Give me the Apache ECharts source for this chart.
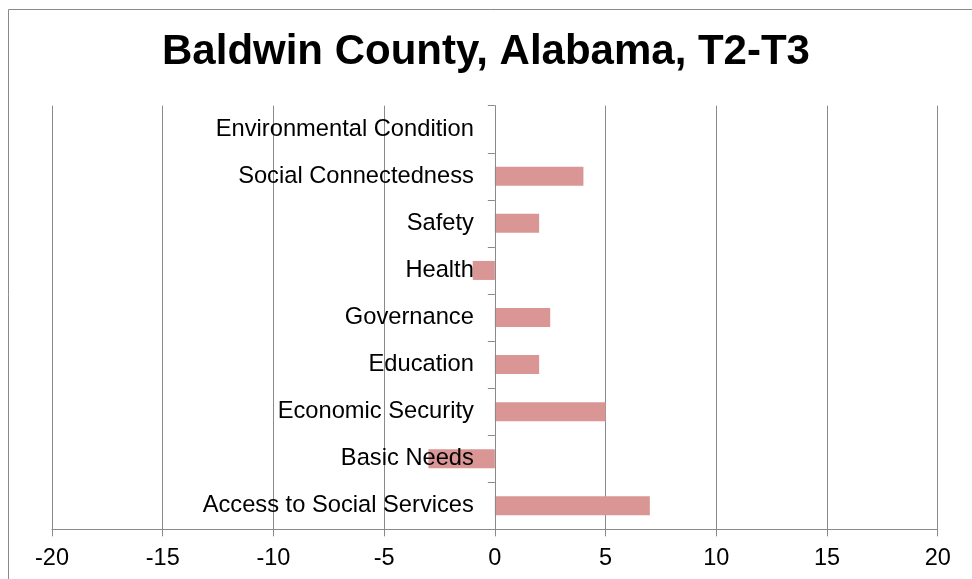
<!DOCTYPE html>
<html>
<head>
<meta charset="utf-8">
<title>Baldwin County, Alabama, T2-T3</title>
<script src="https://cdn.jsdelivr.net/npm/echarts@6/dist/echarts.min.js"></script>
<style>
  html, body { margin: 0; padding: 0; background: #fff; }
  #chart { width: 972px; height: 579px; }
</style>
</head>
<body>
<div id="chart"></div>
<script>
// Domain categories, listed from the bottom of the chart to the top
const categories = [
  'Access to Social Services',
  'Basic Needs',
  'Economic Security',
  'Education',
  'Governance',
  'Health',
  'Safety',
  'Social Connectedness',
  'Environmental Condition'
];

// Change in score between T2 and T3
const changeValues = [7, -3, 5, 2, 2.5, -1, 2, 4, 0];

// Value axis range and tick step
const axisMin = -20;
const axisMax = 20;
const axisStep = 5;

const FONT = '"Liberation Sans", Arial, Helvetica, sans-serif';
const GRAY = '#8a8a8a';

const GRID_LEFT = 52;
const GRID_RIGHT = 34.3;
const CHART_W = 972;

// Category labels sit just left of the zero line, so their margin is
// measured from the grid's left edge to a point 21px left of zero.
const plotW = CHART_W - GRID_LEFT - GRID_RIGHT;
const zeroX = GRID_LEFT + plotW * (0 - axisMin) / (axisMax - axisMin);
const labelMargin = GRID_LEFT - (zeroX - 21);

const chart = echarts.init(document.getElementById('chart'), null, { renderer: 'canvas' });

chart.setOption({
  backgroundColor: '#ffffff',
  animation: false,
  title: {
    text: 'Baldwin County, Alabama, T2-T3',
    left: 'center',
    top: 31,
    padding: 0,
    textStyle: {
      fontFamily: FONT,
      fontSize: 42,
      fontWeight: 'bold',
      color: '#000000'
    }
  },
  graphic: [{
    type: 'rect',
    shape: { x: 8.5, y: 9.5, width: 1200, height: 1200 },
    style: { fill: 'none', stroke: GRAY, lineWidth: 1 },
    silent: true,
    z: -1
  }],
  grid: {
    left: GRID_LEFT,
    right: GRID_RIGHT,
    top: 105.7,
    bottom: 49.7,
    containLabel: false,
    outerBoundsMode: 'none'
  },
  xAxis: {
    type: 'value',
    min: axisMin,
    max: axisMax,
    interval: axisStep,
    axisLine: { show: true, onZero: false, lineStyle: { color: GRAY, width: 1 } },
    axisTick: { show: true, inside: false, length: 7, lineStyle: { color: GRAY, width: 1 } },
    axisLabel: {
      margin: 17,
      fontFamily: FONT,
      fontSize: 23.5,
      color: '#000000'
    },
    splitLine: { show: true, lineStyle: { color: GRAY, width: 1 } }
  },
  yAxis: {
    type: 'category',
    data: categories,
    z: 5,
    axisLine: { show: true, onZero: true, lineStyle: { color: GRAY, width: 1 } },
    axisTick: { show: true, inside: false, length: 7, alignWithLabel: false, lineStyle: { color: GRAY, width: 1 } },
    axisLabel: {
      margin: labelMargin,
      fontFamily: FONT,
      fontSize: 23.7,
      color: '#000000'
    },
    splitLine: { show: false }
  },
  series: [{
    type: 'bar',
    data: changeValues,
    barWidth: 19,
    itemStyle: { color: '#d99694' },
    z: 1
  }]
});
</script>
</body>
</html>
